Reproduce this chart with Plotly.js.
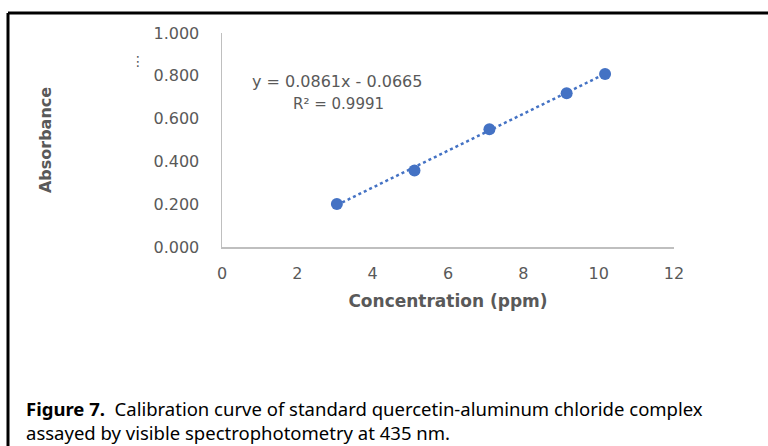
<!DOCTYPE html>
<html>
<head>
<meta charset="utf-8">
<script src="https://cdn.plot.ly/plotly-3.0.1.min.js"></script>
<style>html,body{margin:0;padding:0;background:#fff;}#chart{width:768px;height:446px;}</style>
</head>
<body>
<div id="chart"></div>
<script>
// Data
const concentration = [3.05, 5.11, 7.10, 9.15, 10.17];
const absorbance = [0.201, 0.357, 0.550, 0.718, 0.808];
const slope = 0.0861;
const intercept = -0.0665;
const equationText = 'y = 0.0861x - 0.0665';
const r2Text = 'R² = 0.9991';
const xTicks = [0, 2, 4, 6, 8, 10, 12];
const yTicks = [0, 0.2, 0.4, 0.6, 0.8, 1.0];
const xTitle = 'Concentration (ppm)';
const yTitle = 'Absorbance';
const captionLine1 = '<b>Figure 7.</b>  Calibration curve of standard quercetin-aluminum chloride complex';
const captionLine2 = 'assayed by visible spectrophotometry at 435 nm.';

const xMin = Math.min(...concentration), xMax = Math.max(...concentration);
const trendX = [xMin, xMax];
const trendY = trendX.map(x => slope * x + intercept);

const gray = '#595959';
const axisFont = {family: 'DejaVu Sans, sans-serif', size: 16, color: gray};

const traces = [
  {x: trendX, y: trendY, mode: 'lines', type: 'scatter',
   line: {color: '#4472C4', width: 2.5, dash: 'dot'}, hoverinfo: 'skip', showlegend: false},
  {x: concentration, y: absorbance, mode: 'markers', type: 'scatter',
   marker: {color: '#4472C4', size: 12}, showlegend: false}
];

// pixel -> paper helpers (plot area: x 222..674, y 33..247)
const L = 222, R = 674, T = 33, B = 247, W = 768, H = 446;
const px = v => (v - L) / (R - L);
const py = v => (B - v) / (B - T);

const layout = {
  width: W, height: H,
  margin: {l: L, r: W - R, t: T, b: H - B, pad: 0},
  paper_bgcolor: '#fff', plot_bgcolor: '#fff',
  showlegend: false,
  xaxis: {
    range: [0, 12], tickvals: xTicks, ticktext: xTicks.map(String),
    showgrid: false, zeroline: false, showline: true, linecolor: '#bfbfbf', linewidth: 1.5,
    ticks: 'outside', ticklen: 11, tickcolor: 'rgba(0,0,0,0)',
    tickfont: axisFont, automargin: false, fixedrange: true,
    title: {text: '<b>' + xTitle + '</b>', font: {family: 'DejaVu Sans, sans-serif', size: 17, color: gray}, standoff: 13}
  },
  yaxis: {
    range: [0, 1], tickvals: yTicks, ticktext: yTicks.map(v => v.toFixed(3)),
    showgrid: false, zeroline: false, showline: true, linecolor: '#bfbfbf', linewidth: 1.5,
    ticks: 'outside', ticklen: 18, tickcolor: 'rgba(0,0,0,0)',
    tickfont: axisFont, automargin: false, fixedrange: true,
    title: {text: '<b>' + yTitle + '</b>', font: {family: 'DejaVu Sans, sans-serif', size: 16, color: gray}, standoff: 98}
  },
  shapes: [
    {type: 'line', xref: 'paper', yref: 'paper', x0: px(8), x1: px(770), y0: py(13), y1: py(13), line: {color: '#000', width: 3}},
    {type: 'line', xref: 'paper', yref: 'paper', x0: px(8), x1: px(8), y0: py(13), y1: py(448), line: {color: '#000', width: 3}}
  ],
  annotations: [
    {xref: 'paper', yref: 'paper', x: px(337), y: py(81), text: equationText, showarrow: false,
     xanchor: 'center', yanchor: 'middle', font: {family: 'DejaVu Sans, sans-serif', size: 16, color: gray}},
    {xref: 'paper', yref: 'paper', x: px(338), y: py(104), text: r2Text, showarrow: false,
     xanchor: 'center', yanchor: 'middle', font: {family: 'DejaVu Sans, sans-serif', size: 15, color: gray}},
    {xref: 'paper', yref: 'paper', x: px(138), y: py(61), text: '⋮', showarrow: false,
     xanchor: 'center', yanchor: 'middle', font: {family: 'DejaVu Sans, sans-serif', size: 14, color: gray}},
    {xref: 'paper', yref: 'paper', x: px(24), y: py(420.5), text: captionLine1 + '<br>' + captionLine2, showarrow: false,
     xanchor: 'left', yanchor: 'middle', align: 'left',
     font: {family: 'Noto Sans, sans-serif', size: 18.5, color: '#000'}}
  ]
};

Plotly.newPlot('chart', traces, layout, {displayModeBar: false, staticPlot: true});
</script>
</body>
</html>
